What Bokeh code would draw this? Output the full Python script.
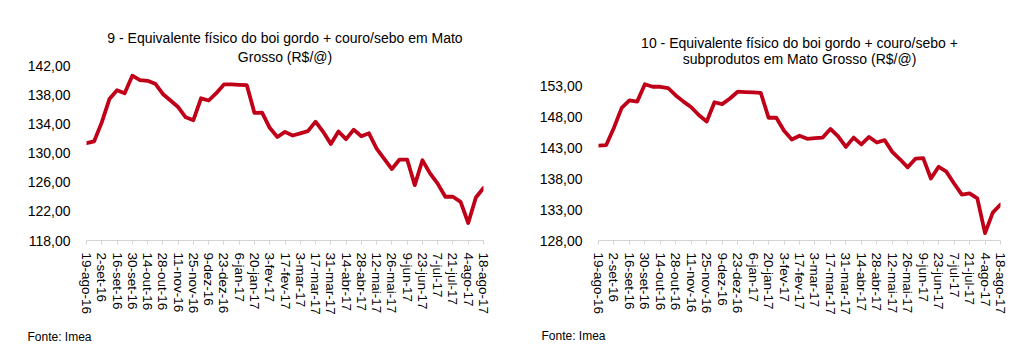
from bokeh.plotting import figure
from bokeh.layouts import row
from bokeh.models import Range1d, FixedTicker, Title
from bokeh.embed import file_html
from bokeh.resources import INLINE

# ---- data ----
tick_labels = ["19-ago-16", "2-set-16", "16-set-16", "30-set-16", "14-out-16", "28-out-16",
               "11-nov-16", "25-nov-16", "9-dez-16", "23-dez-16", "6-jan-17", "20-jan-17",
               "3-fev-17", "17-fev-17", "3-mar-17", "17-mar-17", "31-mar-17", "14-abr-17",
               "28-abr-17", "12-mai-17", "26-mai-17", "9-jun-17", "23-jun-17", "7-jul-17",
               "21-jul-17", "4-ago-17", "18-ago-17"]

boi_couro_sebo = [131.35, 131.6, 134.2, 137.4, 138.6, 138.2, 140.6, 140.0, 139.9, 139.5,
                  138.1, 137.2, 136.3, 134.9, 134.5, 137.5, 137.2, 138.2, 139.4, 139.4,
                  139.35, 139.3, 135.5, 135.55, 133.45, 132.2, 132.9, 132.4, 132.7, 133.0,
                  134.3, 132.9, 131.25, 132.95, 131.9, 133.2, 132.3, 132.7, 130.6, 129.2,
                  127.8, 129.1, 129.1, 125.6, 129.0, 127.2, 125.8, 124.0, 124.0, 123.3,
                  120.4, 123.9, 125.2]

boi_subprodutos = [143.3, 143.4, 146.2, 149.4, 150.6, 150.4, 153.2, 152.8, 152.8, 152.6,
                   151.4, 150.4, 149.5, 148.2, 147.2, 150.3, 150.0, 150.9, 152.0, 151.95,
                   151.9, 151.8, 147.8, 147.8, 145.7, 144.3, 144.9, 144.4, 144.5, 144.6,
                   146.0, 144.8, 143.1, 144.6, 143.5, 144.7, 143.8, 144.2, 142.3, 141.1,
                   139.8, 141.2, 141.3, 138.0, 139.9, 139.1, 137.2, 135.4, 135.6, 134.8,
                   129.2, 132.5, 133.8]

left_yticks = [118, 122, 126, 130, 134, 138, 142]
right_yticks = [128, 133, 138, 143, 148, 153]

title_left = ["9 - Equivalente físico do boi gordo + couro/sebo em Mato", "Grosso (R$/@)"]
title_right = ["10 - Equivalente físico do boi gordo + couro/sebo +", "subprodutos em Mato Grosso (R$/@)"]
source_text = "Fonte: Imea"

FONT = "Liberation Sans"
RED = "#C00018"
GRID = "#d4d4d4"
TOP = 65
HEIGHT = 355
BOTTOM = HEIGHT - 240


def make_chart(values, yticks, y_end, titles, title_offset, title_standoff,
               src_offset, src_standoff, width, b_left, b_right):
    p = figure(width=width, height=HEIGHT, output_backend="svg", toolbar_location=None,
               x_range=Range1d(0, len(values) - 1), y_range=Range1d(yticks[0], y_end),
               min_border_left=b_left, min_border_right=b_right,
               min_border_top=TOP, min_border_bottom=BOTTOM)
    p.outline_line_color = None
    p.xgrid.visible = False
    p.ygrid.visible = False
    p.background_fill_color = "white"
    p.border_fill_color = "white"

    xs = list(range(len(values)))
    p.line(xs, values, line_color=RED, line_width=3.8, line_join="round", line_cap="round")

    # x axis
    xa = p.xaxis[0]
    xa.ticker = FixedTicker(ticks=list(range(0, len(values), 2)))
    xa.major_label_overrides = {i * 2: lab for i, lab in enumerate(tick_labels)}
    xa.major_label_orientation = "vertical"
    xa.axis_line_color = GRID
    xa.major_tick_line_color = GRID
    xa.major_tick_in = 0
    xa.major_tick_out = 4
    xa.minor_tick_line_color = None
    xa.major_label_standoff = 8
    xa.major_label_text_font = FONT
    xa.major_label_text_font_size = "13.5px"
    xa.major_label_text_color = "black"

    # y axis
    ya = p.yaxis[0]
    ya.ticker = FixedTicker(ticks=yticks)
    ya.major_label_overrides = {v: f"{v},00" for v in yticks}
    ya.axis_line_color = None
    ya.major_tick_line_color = None
    ya.minor_tick_line_color = None
    ya.major_tick_out = 0
    ya.major_tick_in = 0
    ya.major_label_standoff = 16
    ya.major_label_text_font = FONT
    ya.major_label_text_font_size = "14px"
    ya.major_label_text_color = "black"

    # two-line title: second line closest to the plot
    for i, t in enumerate(reversed(titles)):
        p.add_layout(Title(text=t, align="center", offset=title_offset,
                           standoff=title_standoff if i == 0 else 0,
                           text_font=FONT, text_font_size="14px", text_font_style="normal",
                           text_color="black"), "above")
    p.add_layout(Title(text=source_text, align="left", offset=src_offset, standoff=src_standoff,
                       text_font=FONT, text_font_size="12px", text_font_style="normal",
                       text_color="black"), "below")
    return p


p1 = make_chart(boi_couro_sebo, left_yticks, 142, title_left, 0, 2, -59, 21,
                512, 86, 29)
p2 = make_chart(boi_subprodutos, right_yticks, 156.23, title_right, -13, -3, -57, 19,
                508, 86, 20)

layout = row(p1, p2, spacing=0)
open("out.html", "w").write(file_html(layout, INLINE))
